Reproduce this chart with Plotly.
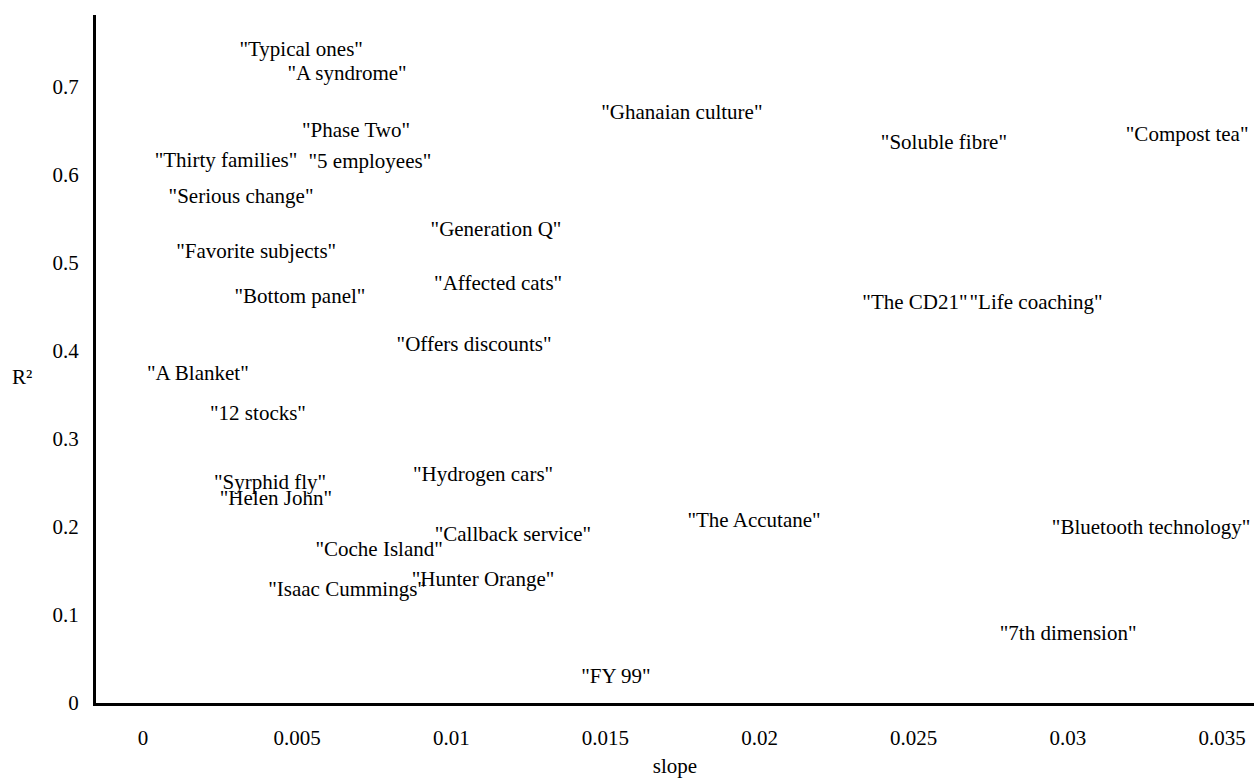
import plotly.graph_objects as go

labels = [
    '"Typical ones"', '"A syndrome"', '"Ghanaian culture"', '"Phase Two"',
    '"Soluble fibre"', '"Compost tea"', '"Thirty families"', '"5 employees"',
    '"Serious change"', '"Generation Q"', '"Favorite subjects"', '"Affected cats"',
    '"Bottom panel"', '"The CD21"', '"Life coaching"', '"Offers discounts"',
    '"A Blanket"', '"12 stocks"', '"Syrphid fly"', '"Hydrogen cars"',
    '"Helen John"', '"The Accutane"', '"Bluetooth technology"', '"Callback service"',
    '"Coche Island"', '"Hunter Orange"', '"Isaac Cummings"', '"7th dimension"',
    '"FY 99"',
]
slope = [
    0.00513, 0.00662, 0.01748, 0.00691,
    0.02598, 0.03387, 0.00269, 0.00736,
    0.00318, 0.01145, 0.00367, 0.01152,
    0.00509, 0.02504, 0.02897, 0.01074,
    0.00178, 0.00373, 0.00412, 0.01103,
    0.00431, 0.01982, 0.03270, 0.01200,
    0.00766, 0.01103, 0.00662, 0.03001,
    0.01534,
]
r2 = [
    0.741, 0.713, 0.669, 0.649,
    0.635, 0.644, 0.614, 0.613,
    0.574, 0.536, 0.511, 0.475,
    0.460, 0.453, 0.453, 0.406,
    0.372, 0.327, 0.249, 0.258,
    0.230, 0.205, 0.197, 0.190,
    0.172, 0.138, 0.127, 0.077,
    0.028,
]
x_ticks = [0, 0.005, 0.01, 0.015, 0.02, 0.025, 0.03, 0.035]
x_ticktext = ["0", "0.005", "0.01", "0.015", "0.02", "0.025", "0.03", "0.035"]
y_ticks = [0, 0.1, 0.2, 0.3, 0.4, 0.5, 0.6, 0.7]
y_ticktext = ["0", "0.1", "0.2", "0.3", "0.4", "0.5", "0.6", "0.7"]

FONT = "Liberation Serif, Times New Roman, serif"
FS = 21

fig = go.Figure()
fig.add_trace(go.Scatter(
    x=slope, y=r2, text=labels, mode="text",
    textposition="middle center", cliponaxis=False,
    textfont=dict(family=FONT, size=FS, color="black"),
    showlegend=False, hoverinfo="text",
))

fig.update_layout(
    width=1254, height=778,
    margin=dict(l=96, r=0, t=15, b=75),
    plot_bgcolor="white", paper_bgcolor="white",
    font=dict(family=FONT, size=FS, color="black"),
    xaxis=dict(
        range=[-0.001525, 0.036038],
        tickvals=x_ticks, ticktext=x_ticktext,
        showgrid=False, zeroline=False,
        showline=True, linewidth=3, linecolor="black",
        ticks="", ticklabelstandoff=14,
        tickfont=dict(family=FONT, size=FS, color="black"),
        title=dict(text="slope", standoff=14,
                   font=dict(family=FONT, size=FS, color="black")),
    ),
    yaxis=dict(
        range=[-0.0005, 0.7813],
        tickvals=y_ticks, ticktext=y_ticktext,
        showgrid=False, zeroline=False,
        showline=True, linewidth=3, linecolor="black",
        ticks="", ticklabelstandoff=10,
        tickfont=dict(family=FONT, size=FS, color="black"),
    ),
    annotations=[dict(
        text="R²", xref="paper", yref="y", x=-0.0639, y=0.3705,
        xanchor="center", yanchor="middle", showarrow=False,
        font=dict(family=FONT, size=FS, color="black"),
    )],
)

fig.write_html(
    "out.html",
    config={"displayModeBar": False},
    post_script="document.body.style.margin='0';document.body.style.overflow='hidden';",
)
